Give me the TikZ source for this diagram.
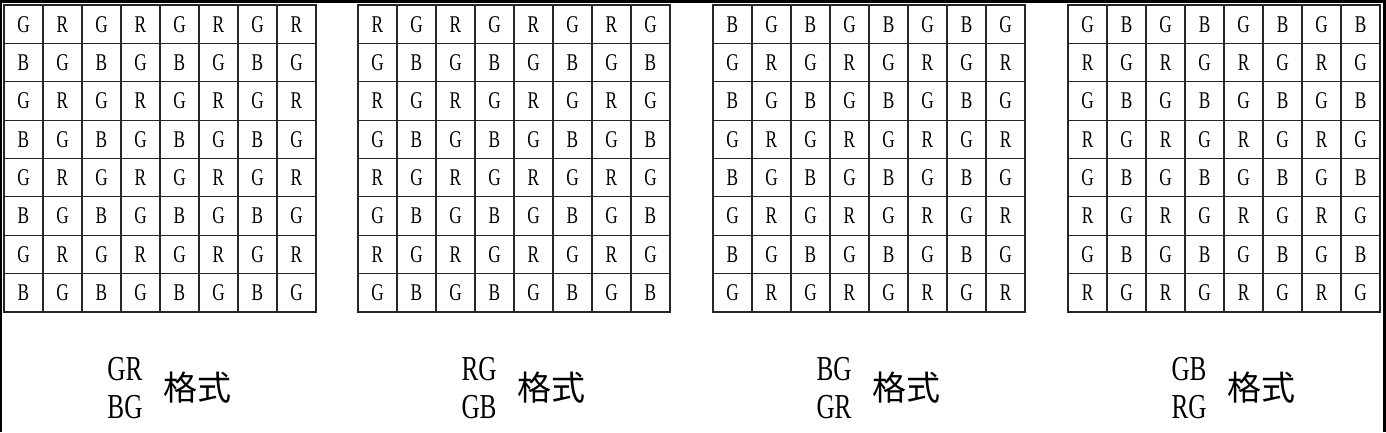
\documentclass[tikz,border=0pt]{standalone}
\usepackage{fontspec}
\newfontfamily\cellfont{Liberation Serif}[FakeStretch=0.72]
\newfontfamily\cjk{Noto Sans CJK SC}
\begin{document}
\begin{tikzpicture}[x=1pt,y=-1pt,
  cell/.style={draw=black!85,line width=1.2pt,minimum width=39pt,minimum height=38.375pt,inner sep=0pt,
    font=\cellfont\fontsize{24}{24}\selectfont},
  lab/.style={inner sep=0pt,font=\cellfont\fontsize{35}{35}\selectfont},
  cjklab/.style={inner sep=0pt,font=\cjk\fontsize{34}{34}\selectfont},
  frame/.style={black,line width=3pt}]
\useasboundingbox (0,0) rectangle (1386,432);
\fill[white] (0,0) rectangle (1386,432);
\foreach \g/\xo/\pa/\pb/\pc/\pd/\la/\lb in {1/4/G/R/B/G/GR/BG, 2/358/R/G/G/B/RG/GB, 3/713/B/G/G/R/BG/GR, 4/1068/G/B/R/G/GB/RG}{
  \foreach \r in {0,...,7}{
    \foreach \col in {0,...,7}{
      \ifodd\r
        \ifodd\col \def\L{\pd}\else\def\L{\pc}\fi
      \else
        \ifodd\col \def\L{\pb}\else\def\L{\pa}\fi
      \fi
      \node[cell] (g\g-\r-\col) at (\xo+19.5+39*\col, 5+19.1875+38.375*\r) {\L};
    }
  }
  \node[lab] (l\g a) at (\xo+121, 369) {\la};
  \node[lab] (l\g b) at (\xo+121, 407) {\lb};
  \node[cjklab] (f\g) at (\xo+193, 388) {格式};
}
\draw[frame] (0,1.5) -- (1386,1.5);
\draw[black,line width=1.5pt] (0.75,0) -- (0.75,432);
\draw[frame] (1384.5,0) -- (1384.5,432);
\end{tikzpicture}
\end{document}
